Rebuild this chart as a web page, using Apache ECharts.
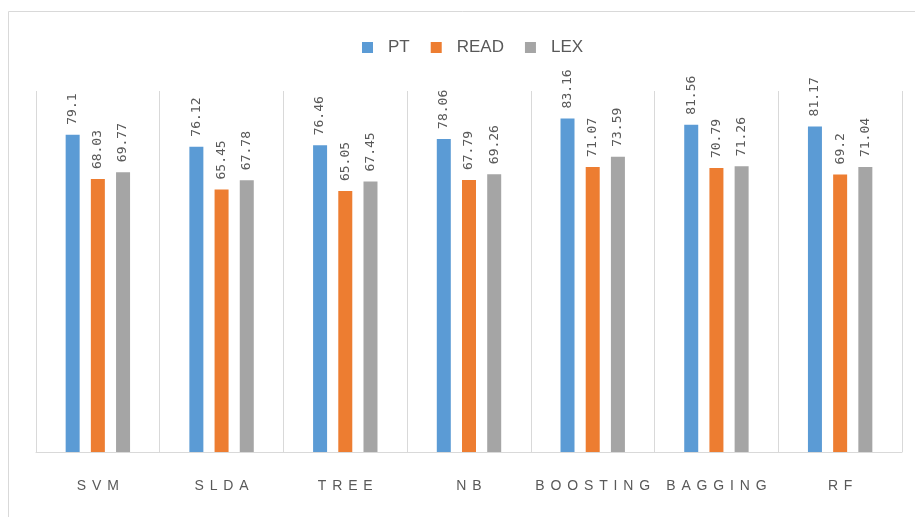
<!DOCTYPE html>
<html>
<head>
<meta charset="utf-8">
<script src="https://cdn.jsdelivr.net/npm/echarts@6/dist/echarts.min.js"></script>
<style>
  html, body { margin: 0; padding: 0; background: #ffffff; }
  #chart { width: 915px; height: 517px; }
</style>
</head>
<body>
<div id="chart"></div>
<script>
// Classifier names along the category axis
const categories = ['SVM', 'SLDA', 'TREE', 'NB', 'BOOSTING', 'BAGGING', 'RF'];

// Accuracy per feature set
const ptValues   = [79.1, 76.12, 76.46, 78.06, 83.16, 81.56, 81.17];
const readValues = [68.03, 65.45, 65.05, 67.79, 71.07, 70.79, 69.2];
const lexValues  = [69.77, 67.78, 67.45, 69.26, 73.59, 71.26, 71.04];

const seriesNames = ['PT', 'READ', 'LEX'];
const seriesColors = ['#5B9BD5', '#ED7D31', '#A5A5A5'];

const chart = echarts.init(document.getElementById('chart'));

const valueLabel = {
  show: true,
  position: 'top',
  rotate: 90,
  align: 'left',
  verticalAlign: 'middle',
  distance: 10,
  color: '#595959',
  fontFamily: 'DejaVu Sans Mono',
  fontSize: 13
};

function barSeries(name, data, color) {
  return {
    name: name,
    type: 'bar',
    data: data,
    barWidth: 14,
    barGap: '80%',
    itemStyle: { color: color },
    label: valueLabel
  };
}

chart.setOption({
  animation: false,
  graphic: [{
    type: 'rect',
    shape: { x: 8.5, y: 11.5, width: 920, height: 520 },
    style: { fill: 'none', stroke: '#d9d9d9', lineWidth: 1 },
    silent: true
  }],
  legend: {
    top: 34,
    left: 357,
    itemWidth: 11,
    itemHeight: 11,
    itemGap: 21,
    icon: 'rect',
    textStyle: {
      color: '#595959',
      fontFamily: 'Liberation Sans',
      fontSize: 17,
      padding: [0, 0, 0, 10]
    },
    data: seriesNames
  },
  grid: { left: 36, right: 13, top: 91, bottom: 65, containLabel: false },
  xAxis: {
    type: 'category',
    data: categories,
    axisLine: { show: true, lineStyle: { color: '#d9d9d9', width: 1 } },
    axisTick: { show: false },
    splitLine: { show: true, interval: 0, lineStyle: { color: '#d9d9d9', width: 1 } },
    axisLabel: {
      interval: 0,
      hideOverlap: false,
      margin: 27,
      color: '#595959',
      fontFamily: 'Liberation Sans',
      fontSize: 14,
      // wide letter spacing for the classifier names
      formatter: function (v) { return v.split('').join('\u2005\u2006'); }
    }
  },
  yAxis: {
    type: 'value',
    min: 0,
    max: 90,
    show: false,
    splitLine: { show: false }
  },
  series: [
    barSeries(seriesNames[0], ptValues, seriesColors[0]),
    barSeries(seriesNames[1], readValues, seriesColors[1]),
    barSeries(seriesNames[2], lexValues, seriesColors[2])
  ]
});
</script>
</body>
</html>
